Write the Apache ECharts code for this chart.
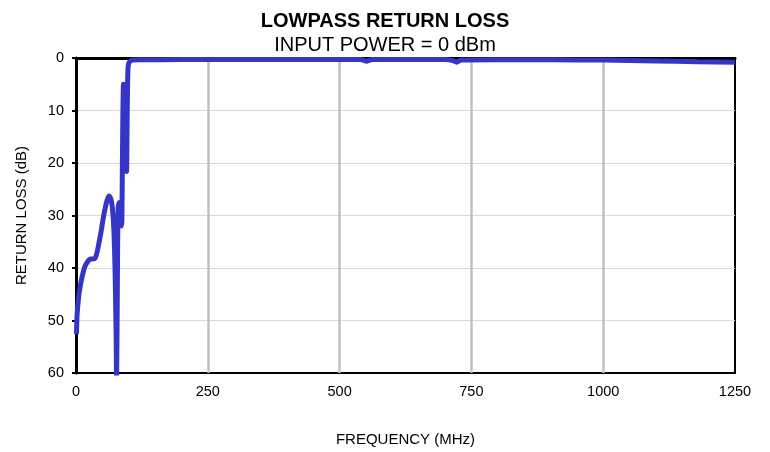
<!DOCTYPE html>
<html><head><meta charset="utf-8">
<script src="https://cdn.jsdelivr.net/npm/echarts@6/dist/echarts.min.js"></script>
<style>html,body{margin:0;padding:0;background:#fff}#c{width:770px;height:452px}</style>
</head><body><div id="c"></div>
<script>
const titleText = "LOWPASS RETURN LOSS";
const subtitleText = "INPUT POWER = 0 dBm";
const xAxisName = "FREQUENCY (MHz)";
const yAxisName = "RETURN LOSS (dB)";
const xTicks = [0, 250, 500, 750, 1000, 1250];
const yTicks = [0, 10, 20, 30, 40, 50, 60];
const freqMHz = [1, 2, 5, 8, 12, 17, 22, 27, 32, 36, 40, 44, 48, 52, 56, 60, 63, 66, 69, 72, 74, 76, 77,
  79, 80, 82, 84, 86, 87, 88, 89, 90, 91, 93, 95, 96, 97, 98, 99, 101, 104, 108, 120, 200, 300, 400, 540,
  551, 562, 700, 715, 722, 730, 800, 900, 1000, 1100, 1180, 1250];
const returnLossDb = [52.6, 49, 45.5, 43.5, 41.5, 39.7, 38.8, 38.3, 38.3, 38.2, 37, 35, 32.8, 30.3, 28.3, 26.8, 26.3, 26.8, 28.5, 33, 40, 52, 62,
  35, 28.5, 27.5, 29, 32, 31, 20, 10, 5, 8, 14, 19, 21.6, 12, 4, 1.5, 0.8, 0.5, 0.4, 0.35, 0.3, 0.3, 0.3, 0.3,
  0.6, 0.3, 0.3, 0.5, 0.8, 0.4, 0.35, 0.35, 0.4, 0.55, 0.7, 0.8];

const font = 'Arial, "Liberation Sans", sans-serif';
const chart = echarts.init(document.getElementById('c'));
chart.setOption({
  animation: false,
  backgroundColor: '#fff',
  title: {
    text: titleText, subtext: subtitleText, left: 'center', top: 11, itemGap: 4, padding: 0,
    textStyle: { fontFamily: font, fontSize: 20, fontWeight: 'bold', color: '#000' },
    subtextStyle: { fontFamily: font, fontSize: 20, color: '#000' }
  },
  grid: { left: 76, right: 35, top: 58, bottom: 77, show: true, borderColor: '#000', borderWidth: 2, backgroundColor: 'transparent' },
  xAxis: {
    type: 'value', min: xTicks[0], max: xTicks[xTicks.length - 1], interval: 250,
    name: xAxisName, nameLocation: 'middle', nameGap: 59,
    nameTextStyle: { fontFamily: font, fontSize: 15, color: '#000' },
    axisLine: { lineStyle: { color: '#000', width: 3 } },
    axisTick: { show: true, length: 4, lineStyle: { color: '#000', width: 2 } },
    axisLabel: { fontFamily: font, fontSize: 14.5, color: '#000', margin: 11, formatter: v => String(v) },
    splitLine: { show: true, showMinLine: false, showMaxLine: false, lineStyle: { color: '#c0c0c0', width: 2.5 } }
  },
  yAxis: {
    type: 'value', inverse: true, min: yTicks[0], max: yTicks[yTicks.length - 1], interval: 10,
    name: yAxisName, nameLocation: 'middle', nameGap: 47, nameRotate: 90,
    nameTextStyle: { fontFamily: font, fontSize: 15, color: '#000' },
    axisLine: { show: true, lineStyle: { color: '#000', width: 3 } },
    axisTick: { show: true, length: 4, lineStyle: { color: '#000', width: 2 } },
    axisLabel: { fontFamily: font, fontSize: 14.5, color: '#000', margin: 12, formatter: v => String(v) },
    splitLine: { show: true, showMinLine: false, showMaxLine: false, lineStyle: { color: '#d9d9d9', width: 1 } }
  },
  series: [{
    type: 'line', showSymbol: false, smooth: 0.2, clip: true,
    data: freqMHz.map((f, i) => [f, returnLossDb[i]]),
    lineStyle: { color: '#3535c8', width: 5 }
  }]
});
</script></body></html>
